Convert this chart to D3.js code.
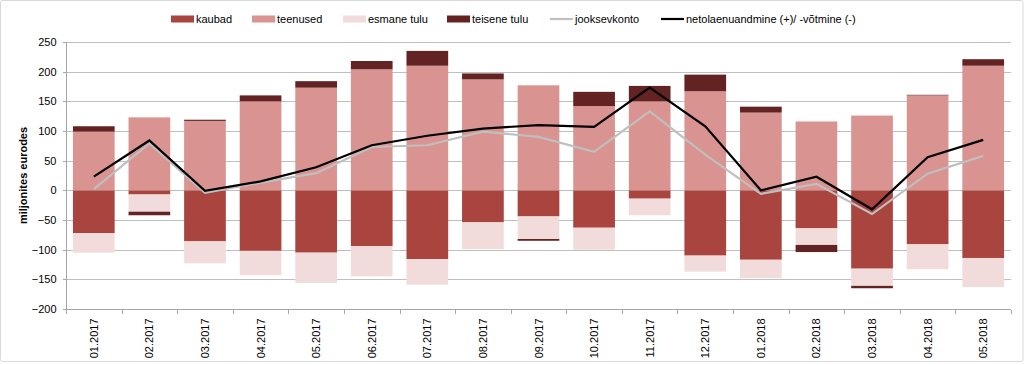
<!DOCTYPE html>
<head>
    <meta charset="utf-8">
    <script src="https://cdnjs.cloudflare.com/ajax/libs/d3/7.8.5/d3.min.js"></script>

    <style>
        body { margin: 0; background: #fff; }

        text {
            font-family: "Liberation Sans", "DejaVu Sans", sans-serif;
            font-size: 11px;
            fill: #000;
        }

        .grid line {
            stroke: #bfbfbf;
            stroke-width: 1;
            shape-rendering: crispEdges;
        }

        .axis path, .axis line {
            stroke: #a6a6a6;
            shape-rendering: crispEdges;
        }

        .line {
            fill: none;
            stroke-width: 2.2;
            stroke-linejoin: miter;
        }
    </style>
</head>

<body>
    <div id="chart"></div>

    <script>
        // months
        const months = ['01.2017', '02.2017', '03.2017', '04.2017', '05.2017', '06.2017', '07.2017', '08.2017',
            '09.2017', '10.2017', '11.2017', '12.2017', '01.2018', '02.2018', '03.2018', '04.2018', '05.2018'];

        // components, million euros
        const kaubad = [-72, -7, -86, -102, -105, -94, -116, -54, -44, -63, -14, -110, -117, -64, -132, -91, -114];
        const teenused = [99, 123, 117, 150, 173, 204, 210, 187, 177, 142, 150, 167, 131, 116, 126, 160, 210];
        const esmaneTulu = [-33, -29, -37, -41, -51, -51, -43, -45, -38, -37, -28, -27, -31, -28, -29, -42, -49];
        const teiseneTulu = [9, -6, 2, 10, 11, 14, 25, 10, -3, 24, 26, 28, 10, -12, -4, 1, 11];

        // lines
        const jooksevkonto = [2, 79, -4, 13, 29, 73, 76, 99, 90, 65, 133, 60, -6, 11, -40, 28, 58];
        const netolaen = [23, 84, -1, 15, 39, 76, 92, 104, 110, 107, 173, 108, 0, 23, -32, 56, 85];

        const yTicks = [-200, -150, -100, -50, 0, 50, 100, 150, 200, 250];

        const series = [
            { name: 'kaubad', values: kaubad, color: '#a9443f' },
            { name: 'teenused', values: teenused, color: '#d99391' },
            { name: 'esmane tulu', values: esmaneTulu, color: '#f2dcdb' },
            { name: 'teisene tulu', values: teiseneTulu, color: '#632322' }
        ];
        const lines = [
            { name: 'jooksevkonto', values: jooksevkonto, color: '#bfbfbf' },
            { name: 'netolaenuandmine (+)/ -võtmine (-)', values: netolaen, color: '#000000' }
        ];

        const width = 1024;
        const height = 365;
        const margin = { top: 42, right: 13, bottom: 56, left: 66 };

        const svg = d3.select('#chart').append('svg')
            .attr('width', width)
            .attr('height', height);

        // outer frame
        svg.append('rect')
            .attr('x', 0.5).attr('y', 0.5)
            .attr('width', width - 1.5).attr('height', 361)
            .attr('rx', 2)
            .attr('fill', 'none')
            .attr('stroke', '#d9d9d9');

        const x = d3.scaleBand()
            .domain(months)
            .range([margin.left, width - margin.right])
            .paddingInner(0.25)
            .paddingOuter(0.125);

        const y = d3.scaleLinear()
            .domain([-200, 250])
            .range([height - margin.bottom, margin.top]);

        // gridlines
        svg.append('g').attr('class', 'grid')
            .selectAll('line')
            .data(yTicks.filter(t => t > -200))
            .enter().append('line')
                .attr('x1', margin.left)
                .attr('x2', width - margin.right)
                .attr('y1', d => Math.round(y(d)) + 0.5)
                .attr('y2', d => Math.round(y(d)) + 0.5);

        // stacked bars (positive and negative stacked separately)
        const stacked = [];
        months.forEach((m, i) => {
            let pos = 0, neg = 0;
            series.forEach(s => {
                const v = s.values[i];
                if (v >= 0) {
                    stacked.push({ month: m, y0: pos, y1: pos + v, color: s.color });
                    pos += v;
                } else {
                    stacked.push({ month: m, y0: neg + v, y1: neg, color: s.color });
                    neg += v;
                }
            });
        });

        svg.append('g').selectAll('rect')
            .data(stacked)
            .enter().append('rect')
                .attr('x', d => x(d.month))
                .attr('width', x.bandwidth())
                .attr('y', d => y(d.y1))
                .attr('height', d => y(d.y0) - y(d.y1))
                .attr('fill', d => d.color);

        // lines
        const lineGen = d3.line()
            .x((d, i) => x(months[i]) + x.bandwidth() / 2)
            .y(d => y(d));

        svg.append('g').selectAll('path')
            .data(lines)
            .enter().append('path')
                .attr('class', 'line')
                .attr('stroke', d => d.color)
                .attr('d', d => lineGen(d.values));

        // y axis
        const yAxis = svg.append('g').attr('class', 'axis')
            .attr('transform', `translate(${margin.left + 0.5},0)`)
            .call(d3.axisLeft(y).tickValues(yTicks).tickSize(4).tickPadding(6));
        yAxis.select('.domain').attr('d', `M-4,${y(250)}H0V${y(-200)}`);
        yAxis.selectAll('text').style('font-size', '11px').attr('fill', '#000');

        // x axis at the bottom (-200)
        const xAxisG = svg.append('g').attr('class', 'axis')
            .attr('transform', `translate(0,${Math.round(y(-200)) + 0.5})`);
        xAxisG.append('line')
            .attr('x1', margin.left).attr('x2', width - margin.right);
        const edges = d3.range(months.length + 1).map(i => margin.left + i * x.step());
        xAxisG.selectAll('.tk')
            .data(edges)
            .enter().append('line')
                .attr('x1', d => Math.round(d) + 0.5).attr('x2', d => Math.round(d) + 0.5)
                .attr('y1', 0).attr('y2', 4);
        xAxisG.selectAll('text')
            .data(months)
            .enter().append('text')
                .attr('transform', d => `translate(${x(d) + x.bandwidth() / 2 + 4},9) rotate(-90)`)
                .attr('text-anchor', 'end')
                .text(d => d);

        // y title
        svg.append('text')
            .attr('transform', `translate(27,${y(25)}) rotate(-90)`)
            .attr('text-anchor', 'middle')
            .style('font-weight', 'bold')
            .text('miljonites eurodes');

        // legend
        const legendItems = [
            { name: 'kaubad', color: series[0].color, type: 'box', x: 171 },
            { name: 'teenused', color: series[1].color, type: 'box', x: 252 },
            { name: 'esmane tulu', color: series[2].color, type: 'box', x: 343 },
            { name: 'teisene tulu', color: series[3].color, type: 'box', x: 447 },
            { name: 'jooksevkonto', color: lines[0].color, type: 'line', x: 550 },
            { name: lines[1].name, color: lines[1].color, type: 'line', x: 661 }
        ];
        const legend = svg.append('g').selectAll('g')
            .data(legendItems)
            .enter().append('g')
                .attr('transform', d => `translate(${d.x},19)`);
        legend.filter(d => d.type === 'box').append('rect')
            .attr('x', 0).attr('y', -3.5).attr('width', 23).attr('height', 7)
            .attr('fill', d => d.color);
        legend.filter(d => d.type === 'line').append('line')
            .attr('x1', 0).attr('x2', 23).attr('y1', 0).attr('y2', 0)
            .attr('stroke', d => d.color).attr('stroke-width', 2.2);
        legend.append('text')
            .attr('x', 25).attr('dy', '0.35em')
            .text(d => d.name);
    </script>
</body>
